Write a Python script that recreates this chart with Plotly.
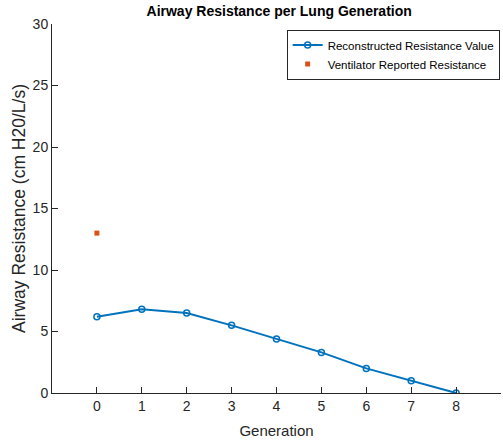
import plotly.graph_objects as go

generations = [0, 1, 2, 3, 4, 5, 6, 7, 8]
reconstructed = [6.2, 6.8, 6.5, 5.5, 4.4, 3.3, 2.0, 1.0, 0.0]
vent_gen = [0]
vent_res = [13.0]
x_ticks = [0, 1, 2, 3, 4, 5, 6, 7, 8]
y_ticks = [0, 5, 10, 15, 20, 25, 30]

fig = go.Figure()
fig.add_trace(go.Scatter(
    x=generations, y=reconstructed, mode="lines+markers",
    name="Reconstructed Resistance Value",
    line=dict(color="#0072BD", width=2),
    marker=dict(symbol="circle-open", size=6, color="#0072BD", line=dict(width=1.5)),
))
fig.add_trace(go.Scatter(
    x=vent_gen, y=vent_res, mode="markers",
    name="Ventilator Reported Resistance",
    marker=dict(symbol="square", size=5, color="#D95319"),
))

font_family = "Liberation Sans, Arial, sans-serif"
fig.update_layout(
    width=503, height=444,
    margin=dict(l=52, r=2, t=24, b=51),
    paper_bgcolor="white", plot_bgcolor="white",
    font=dict(family=font_family, size=13, color="#262626"),
    title=dict(text="<b>Airway Resistance per Lung Generation</b>",
               x=0.555, xanchor="center", y=0.974, yanchor="middle",
               font=dict(size=14, color="black")),
    showlegend=True,
    legend=dict(x=0.997, y=0.985, xanchor="right", yanchor="top",
                bordercolor="#262626", borderwidth=1, bgcolor="white",
                font=dict(size=11.5, color="black"),
                tracegroupgap=0, itemwidth=30),
    xaxis=dict(range=[-1, 9], tickvals=x_ticks, ticktext=[str(v) for v in x_ticks],
               showgrid=False, zeroline=False, showline=True, linecolor="#262626",
               linewidth=1, ticks="inside", ticklen=6, tickcolor="#262626",
               title=dict(text="Generation", standoff=12, font=dict(size=15)),
               tickfont=dict(size=14)),
    yaxis=dict(range=[0, 30], tickvals=y_ticks, ticktext=[str(v) for v in y_ticks],
               showgrid=False, zeroline=False, showline=True, linecolor="#262626",
               linewidth=1, ticks="inside", ticklen=6, tickcolor="#262626",
               title=dict(text="Airway Resistance (cm H20/L/s)", standoff=2,
                          font=dict(size=17.5)),
               tickfont=dict(size=14)),
)
fig.write_html("out.html")
